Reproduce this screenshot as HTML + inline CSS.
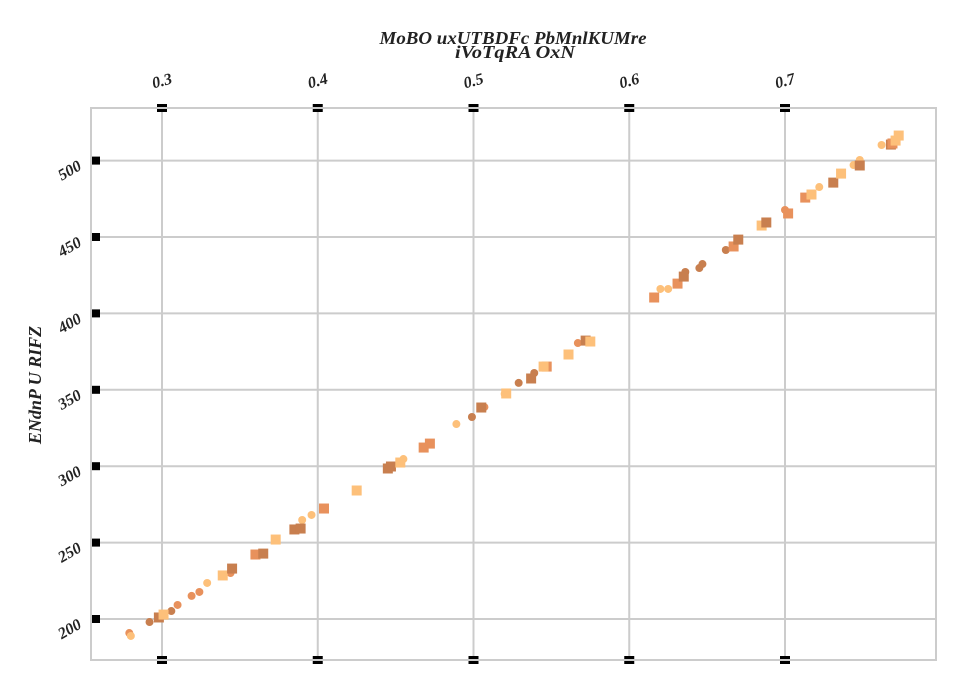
<!DOCTYPE html>
<html><head><meta charset="utf-8"><style>
body{margin:0;background:#fff;}
svg text{font-family:"Liberation Serif",serif;font-weight:bold;font-style:italic;fill:#222;}
</style></head><body>
<svg id="chart" width="966" height="690" xmlns="http://www.w3.org/2000/svg">
<text x="513" y="44" font-size="18" text-anchor="middle" textLength="267" lengthAdjust="spacingAndGlyphs">MoBO uxUTBDFc PbMnlKUMre</text>
<text x="515" y="58" font-size="18" text-anchor="middle" textLength="120" lengthAdjust="spacingAndGlyphs">iVoTqRA  OxN</text>
<text transform="translate(41,385) rotate(-90)" font-size="18" text-anchor="middle">ENdnP U RIFZ</text>
<g id="grid"></g><g id="marks"></g><g id="ticks"></g>
</svg>
<script>
const xTicks=[0.3,0.4,0.5,0.6,0.7];
const yTicks=[200,250,300,350,400,450,500];
const circX=[0.279,0.280,0.292,0.306,0.310,0.319,0.324,0.329,0.339,0.344,0.390,0.396,0.455,0.489,0.499,0.505,0.507,0.520,0.529,0.539,0.567,0.620,0.625,0.636,0.645,0.647,0.662,0.700,0.722,0.744,0.748,0.762];
const circY=[190.8,188.9,198.0,205.2,209.2,215.1,217.7,223.6,228.8,230.1,264.8,268.1,304.7,327.6,332.2,338.1,338.7,347.3,354.5,361.0,380.6,416.0,416.0,427.1,429.7,432.3,441.5,467.7,482.7,497.1,500.4,510.2];
const circC=[1,2,0,0,1,1,1,2,1,1,2,2,2,2,0,0,1,2,0,0,1,2,2,0,0,0,0,1,2,2,2,2];
const sqX=[0.298,0.301,0.339,0.345,0.360,0.365,0.373,0.385,0.389,0.404,0.425,0.445,0.447,0.453,0.468,0.472,0.505,0.521,0.537,0.547,0.545,0.561,0.572,0.575,0.616,0.631,0.635,0.667,0.670,0.685,0.688,0.702,0.713,0.717,0.731,0.736,0.748,0.768,0.769,0.771,0.773];
const sqY=[201.0,202.9,228.5,233.0,242.2,242.8,252.0,258.6,259.2,272.3,284.1,298.5,299.8,302.4,312.2,314.8,338.4,347.6,357.4,365.2,365.2,373.1,382.2,381.6,410.4,419.5,424.1,443.8,448.3,457.5,459.5,465.4,475.8,477.8,485.6,491.5,496.8,510.5,511.2,513.1,516.4];
const sqC=[0,2,2,0,1,0,2,0,0,1,2,0,0,2,1,1,0,2,0,1,2,2,0,2,1,1,0,1,0,2,0,1,1,2,0,2,0,0,1,2,2];
const colors=["#c87f4f","#e8915c","#fdc07a"];
const L=91,R=936,T=108,B=660;
const xs=v=>162+(v-0.3)*1557.5;
const ys=v=>619-(v-200)*1.528;
const NS="http://www.w3.org/2000/svg";
function mk(t,a,p){const e=document.createElementNS(NS,t);for(const k in a)e.setAttribute(k,a[k]);p.appendChild(e);return e;}
const grid=document.getElementById('grid'),marks=document.getElementById('marks'),ticks=document.getElementById('ticks');
const frame=mk('rect',{x:L,y:T,width:R-L,height:B-T,fill:'none',stroke:'#ccc','stroke-width':2},grid);


xTicks.forEach(v=>{
  const x=xs(v);
  const g=mk('line',{x1:x,x2:x,y1:T,y2:B,stroke:'#ccc','stroke-width':2},grid);
  
  
  [T,B].forEach(yy=>{
    mk('rect',{x:x-5,y:yy-4,width:10,height:3,fill:'#000'},ticks);
    mk('rect',{x:x-5,y:yy+1,width:10,height:3,fill:'#000'},ticks);
  });
  const t=mk('text',{x:x,y:86,'font-size':16,'text-anchor':'middle',transform:`rotate(-15 ${x} 81)`},ticks);
  t.textContent=v.toFixed(1);
  
  
});
yTicks.forEach(v=>{
  const y=ys(v);
  const g=mk('line',{x1:L,x2:R,y1:y,y2:y,stroke:'#ccc','stroke-width':2},grid);
  
  
  mk('rect',{x:92,y:y-4,width:8,height:8,fill:'#000'},ticks);
  const t=mk('text',{x:80,y:y+9,'font-size':16,'text-anchor':'end',transform:`rotate(-30 80 ${y+4})`},ticks);
  t.textContent=v;
  
  
});
circX.forEach((v,i)=>{
  const c=mk('circle',{cx:xs(v),cy:ys(circY[i]),r:4,fill:colors[circC[i]]},marks);
  
  
});
sqX.forEach((v,i)=>{
  const s=mk('rect',{x:xs(v)-5,y:ys(sqY[i])-5,width:10,height:10,fill:colors[sqC[i]]},marks);
  
  
});
</script>
</body></html>
